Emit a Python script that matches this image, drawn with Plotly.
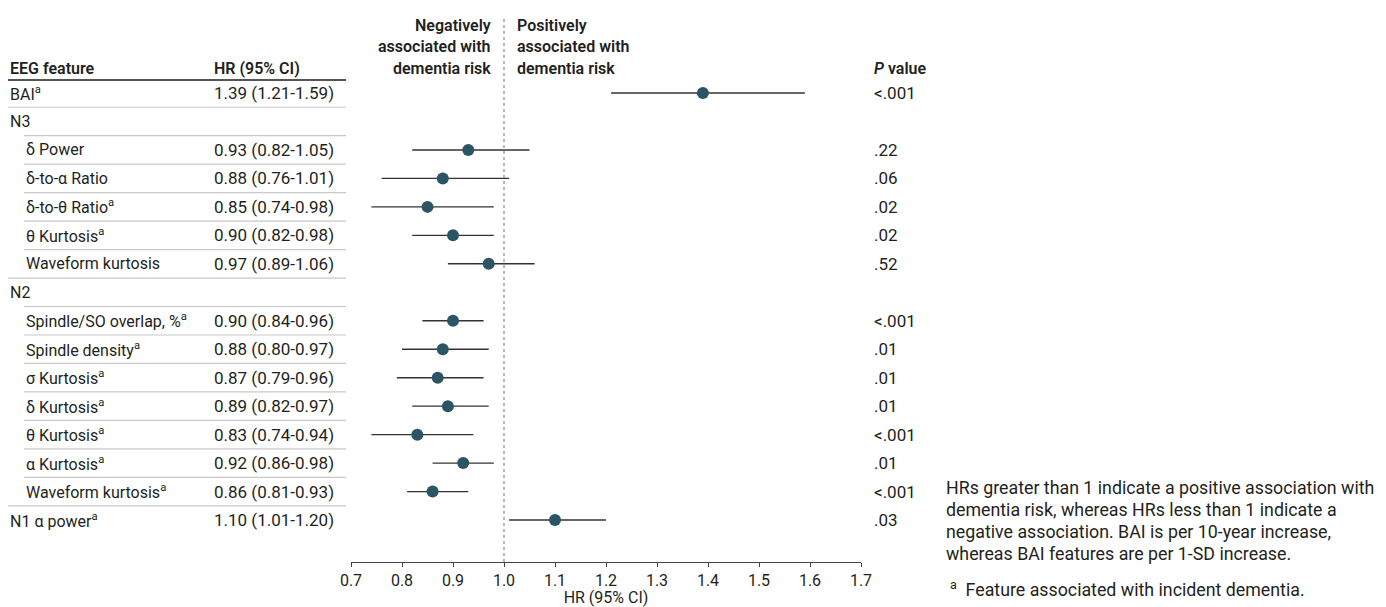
import plotly.graph_objects as go

# ---------------- data ----------------
features = ["BAI<sup>a</sup>", "N3", "δ Power", "δ-to-α Ratio", "δ-to-θ Ratio<sup>a</sup>",
            "θ Kurtosis<sup>a</sup>", "Waveform kurtosis", "N2",
            "Spindle/SO overlap, %<sup>a</sup>", "Spindle density<sup>a</sup>",
            "σ Kurtosis<sup>a</sup>", "δ Kurtosis<sup>a</sup>", "θ Kurtosis<sup>a</sup>",
            "α Kurtosis<sup>a</sup>", "Waveform kurtosis<sup>a</sup>", "N1 α power<sup>a</sup>"]
indent = [0, 0, 1, 1, 1, 1, 1, 0, 1, 1, 1, 1, 1, 1, 1, 0]
hr = [1.39, None, 0.93, 0.88, 0.85, 0.90, 0.97, None, 0.90, 0.88, 0.87, 0.89, 0.83, 0.92, 0.86, 1.10]
ci_low = [1.21, None, 0.82, 0.76, 0.74, 0.82, 0.89, None, 0.84, 0.80, 0.79, 0.82, 0.74, 0.86, 0.81, 1.01]
ci_high = [1.59, None, 1.05, 1.01, 0.98, 0.98, 1.06, None, 0.96, 0.97, 0.96, 0.97, 0.94, 0.98, 0.93, 1.20]
p_values = ["<.001", "", ".22", ".06", ".02", ".02", ".52", "", "<.001", ".01", ".01", ".01",
            "<.001", ".01", "<.001", ".03"]
tick_values = [0.7, 0.8, 0.9, 1.0, 1.1, 1.2, 1.3, 1.4, 1.5, 1.6, 1.7]
tick_labels = ["0.7", "0.8", "0.9", "1.0", "1.1", "1.2", "1.3", "1.4", "1.5", "1.6", "1.7"]
footnote_lines = ["HRs greater than 1 indicate a positive association with",
                  "dementia risk, whereas HRs less than 1 indicate a",
                  "negative association. BAI is per 10-year increase,",
                  "whereas BAI features are per 1-SD increase."]
footnote_a = "<sup>a</sup>  Feature associated with incident dementia."
neg_lines = ["Negatively", "associated with", "dementia risk"]
pos_lines = ["Positively", "associated with", "dementia risk"]

# ---------------- layout geometry (screen pixels of the reference) ----------------
OFF = 8                           # default page body margin
W, H = 1386 - OFF, 607 - OFF
ROW0, ROWH = 93.0, 28.47          # screen y of first row and row spacing
AXIS_PX = 562                     # screen y of x-axis line
Y_BOTTOM = (AXIS_PX - ROW0) / ROWH
Y_TOP = (OFF - ROW0) / ROWH
PLOT_H = AXIS_PX - OFF


def px_x(p):
    return (p - OFF) / W


def px_y(p):
    return (p - ROW0) / ROWH


def px_paper_y(p):
    return (AXIS_PX - p) / PLOT_H


FONT = "Roboto"
TXT = "#231f20"
FS = 16
FS_NUM = 17
FS_NOTE = 17.8
MARK = "#2b5565"

rows = list(range(len(features)))
pts_y = [r for r, v in zip(rows, hr) if v is not None]
pts_x = [v for v in hr if v is not None]
err_plus = [h - v for v, h in zip(hr, ci_high) if v is not None]
err_minus = [v - l for v, l in zip(hr, ci_low) if v is not None]

fig = go.Figure()
fig.add_trace(go.Scatter(
    x=pts_x, y=pts_y, mode="markers",
    marker=dict(color=MARK, size=12, line=dict(width=0)),
    error_x=dict(type="data", symmetric=False, array=err_plus, arrayminus=err_minus,
                 thickness=1.4, width=0, color="#333333"),
    showlegend=False, hoverinfo="x+y", cliponaxis=False,
))

annotations = []
shapes = []


def note(x, y, text, anchor="left", size=FS, weight=None, yref="y"):
    f = dict(family=FONT, size=size, color=TXT)
    if weight:
        f["weight"] = weight
    annotations.append(dict(x=x, y=y, xref="paper", yref=yref, text=text,
                            xanchor=anchor, yanchor="middle", showarrow=False, font=f))


# column headers
hdr_y = px_y(68)
note(px_x(8), hdr_y, "EEG feature", weight=600)
note(px_x(212), hdr_y, "HR (95% CI)", weight=600)
note(px_x(872), hdr_y, "<i>P</i> value", weight=600)
shapes.append(dict(type="line", xref="paper", yref="y", x0=px_x(8), x1=px_x(346),
                   y0=px_y(80), y1=px_y(80), line=dict(color="#555555", width=2)))

# direction headers
for i, (a, b) in enumerate(zip(neg_lines, pos_lines)):
    yy = px_y(25 + 21.5 * i)
    note(px_x(493), yy, a, anchor="right", weight=600)
    note(px_x(515), yy, b, anchor="left", weight=600)

# table rows
for r in rows:
    xl = 24 if indent[r] else 8
    note(px_x(xl), r, features[r])
    if hr[r] is not None:
        note(px_x(212), r, f"{hr[r]:.2f} ({ci_low[r]:.2f}-{ci_high[r]:.2f})", size=FS_NUM)
    if p_values[r]:
        note(px_x(872), r, p_values[r], size=FS_NUM)
    if r < len(rows) - 1:
        xs = 24 if indent[r + 1] else 8
        shapes.append(dict(type="line", xref="paper", yref="y", x0=px_x(xs), x1=px_x(346),
                           y0=r + 0.5, y1=r + 0.5, line=dict(color="#c8c8c8", width=1.2)))

# reference line at HR = 1
shapes.append(dict(type="line", xref="x", yref="paper", x0=1.0, x1=1.0,
                   y0=0, y1=px_paper_y(18),
                   line=dict(color="#8a8a8a", width=1.2, dash="dot")))

# footnotes
for i, t in enumerate(footnote_lines):
    note(px_x(944), px_paper_y(487 + 22 * i), t, size=FS_NOTE, yref="paper")
note(px_x(948), px_paper_y(588), footnote_a, size=FS_NOTE, yref="paper")

fig.update_layout(
    width=W, height=H,
    margin=dict(l=0, r=0, t=0, b=H - PLOT_H, autoexpand=False),
    paper_bgcolor="white", plot_bgcolor="white",
    font=dict(family=FONT, size=FS, color=TXT),
    xaxis=dict(domain=[px_x(351), px_x(861)], range=[0.7, 1.7], tickvals=tick_values,
               ticktext=tick_labels, showgrid=False, zeroline=False, showline=True,
               linecolor="#444444", linewidth=1.2, ticks="outside", ticklen=4,
               tickcolor="#444444", tickwidth=1.2,
               tickfont=dict(family=FONT, size=FS, color=TXT),
               title=dict(text="HR (95% CI)", standoff=6,
                          font=dict(family=FONT, size=FS, color=TXT)),
               automargin=False, fixedrange=True),
    yaxis=dict(range=[Y_BOTTOM, Y_TOP], visible=False, showgrid=False, zeroline=False,
               automargin=False, fixedrange=True),
    annotations=annotations, shapes=shapes,
)

fig.write_html("out.html")
